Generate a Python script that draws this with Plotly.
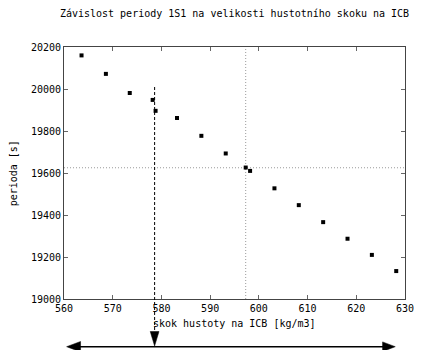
import plotly.graph_objects as go

# Density jump at the ICB [kg/m3] and period of mode 1S1 [s]
density_jump = [563.6, 568.6, 573.5, 578.2, 578.8, 583.2, 588.2, 593.2,
                597.3, 598.2, 603.2, 608.2, 613.2, 618.2, 623.2, 628.2]
period = [20160, 20072, 19981, 19948, 19896, 19862, 19777, 19693,
          19626, 19610, 19527, 19447, 19366, 19287, 19210, 19133]

# Reference marks
observed_period = 19625      # horizontal dotted line
observed_density = 597.3     # vertical dotted line
chosen_density = 578.6       # dashed vertical line with arrow

x_ticks = [560, 570, 580, 590, 600, 610, 620, 630]
x_labels = ["560", "570", "580", "590", "600", "610", "620", "630"]
y_ticks = [19000, 19200, 19400, 19600, 19800, 20000, 20200]
y_labels = ["19000", "19200", "19400", "19600", "19800", "20000", "20200"]

FONT = "DejaVu Sans Mono"
W, H = 426, 350
ML, MR, MT, MB = 64, 12, 47, 51
PW, PH = W - ML - MR, H - MT - MB


def px_x(px):
    return (px - ML) / PW


def px_y(py):
    return (H - MB - py) / PH


fig = go.Figure()
fig.add_trace(go.Scatter(
    x=density_jump, y=period, mode="markers",
    marker=dict(symbol="square", size=4, color="black", line=dict(width=0)),
    showlegend=False, cliponaxis=False,
))

shapes = [
    # dotted guide lines
    dict(type="line", xref="paper", yref="y", x0=0, x1=1,
         y0=observed_period, y1=observed_period,
         line=dict(color="#9a9a9a", width=1, dash="1px,2px"), layer="below"),
    dict(type="line", xref="x", yref="paper", x0=observed_density, x1=observed_density,
         y0=0, y1=1,
         line=dict(color="#9a9a9a", width=1, dash="1px,2px"), layer="below"),
    # dashed marker line running below the axis
    dict(type="line", xref="x", yref="paper", x0=chosen_density, x1=chosen_density,
         y0=px_y(87), y1=px_y(332),
         line=dict(color="black", width=1, dash="3px,2px")),
    # horizontal double arrow shaft
    dict(type="line", xref="paper", yref="paper", x0=px_x(76), x1=px_x(394),
         y0=px_y(346.7), y1=px_y(346.7), line=dict(color="black", width=1.5)),
]


# arrowheads (left, right, down)
def tri(pts):
    p = "M " + " L ".join(f"{px_x(a):.5f},{px_y(b):.5f}" for a, b in pts) + " Z"
    return dict(type="path", xref="paper", yref="paper", path=p,
                fillcolor="black", line=dict(color="black", width=0.5))


shapes.append(tri([(66.7, 346.7), (81, 341.5), (81, 351.9)]))
shapes.append(tri([(404, 346.7), (391, 341.9), (391, 351.5)]))

# down arrow at the dashed line, placed on the data x
shapes.append(dict(
    type="path", xref="x", yref="paper",
    path=(f"M {chosen_density - 0.9},{px_y(331.5):.5f} "
          f"L {chosen_density + 0.9},{px_y(331.5):.5f} "
          f"L {chosen_density},{px_y(346):.5f} Z"),
    fillcolor="black", line=dict(color="black", width=0.5)))

annotations = [
    dict(text="perioda [s]", xref="paper", yref="paper",
         x=px_x(12), y=0.5, xanchor="center", yanchor="middle",
         textangle=-90, showarrow=False, font=dict(family=FONT, size=10, color="black")),
    dict(text="skok hustoty na ICB [kg/m3]", xref="paper", yref="paper",
         x=0.5, y=px_y(323), xanchor="center", yanchor="middle",
         showarrow=False, font=dict(family=FONT, size=10, color="black")),
]

axis_style = dict(
    showgrid=False, zeroline=False, showline=True, linecolor="#444444", linewidth=1,
    mirror="ticks", ticks="inside", ticklen=4, tickcolor="#666666", tickwidth=1,
    tickfont=dict(family=FONT, size=10, color="black"),
)

fig.update_layout(
    width=W, height=H,
    margin=dict(l=ML, r=MR, t=MT, b=MB),
    paper_bgcolor="white", plot_bgcolor="white",
    title=dict(text="Závislost periody 1S1 na velikosti hustotního skoku na ICB",
               x=0.5, xref="paper", y=1 - 13 / H, yref="container",
               xanchor="center", yanchor="middle",
               font=dict(family=FONT, size=10, color="black")),
    xaxis=dict(range=[560, 630], tickvals=x_ticks, ticktext=x_labels, **axis_style),
    yaxis=dict(range=[19000, 20200], tickvals=y_ticks, ticktext=y_labels, **axis_style),
    shapes=shapes,
    annotations=annotations,
)

fig.write_html("out.html")
